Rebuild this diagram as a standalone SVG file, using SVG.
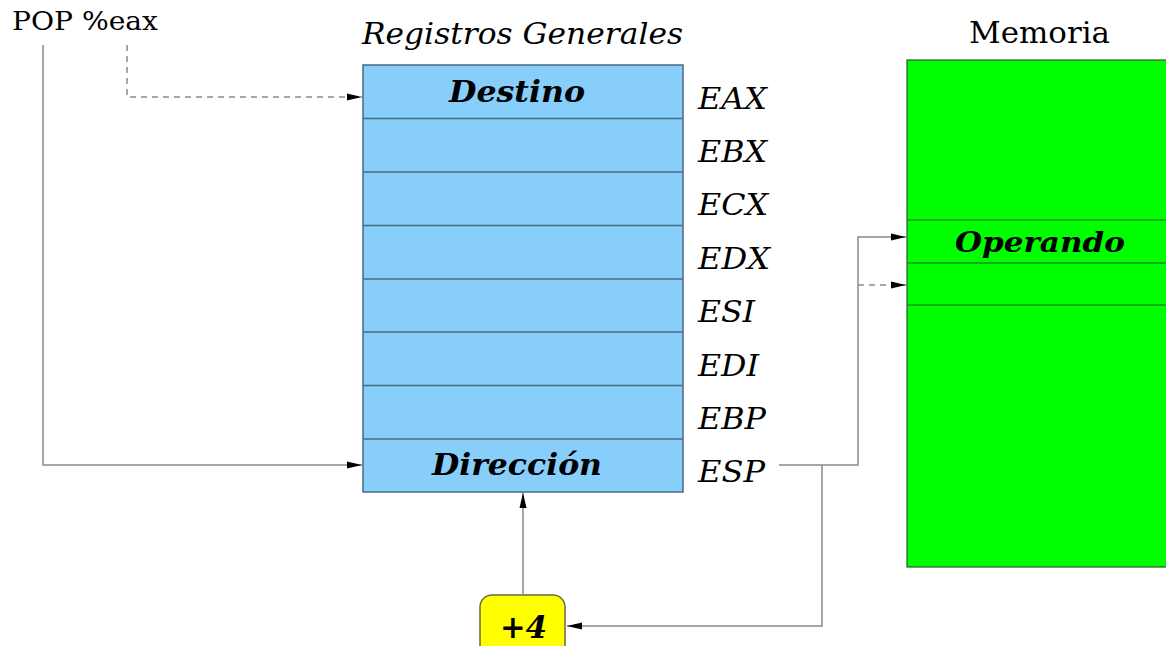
<svg xmlns="http://www.w3.org/2000/svg" width="1166" height="646" viewBox="0 0 1166 646">
<style>
.t{font-family:"DejaVu Serif",serif;fill:#000}
.it{font-style:italic}
.b{font-weight:bold;font-style:italic}
.reg{fill:#87cefa;stroke:#4a6a80;stroke-width:1.5}
.sep{stroke:#4a6a80;stroke-width:1.5}
.mem{fill:#00ff00;stroke:#2a5a2a;stroke-width:1.2}
.c{fill:none;stroke:#8a8a8a;stroke-width:1.5}
.d{stroke-dasharray:6,5}
</style>
<defs>
<marker id="a" viewBox="0 0 15 8" refX="15" refY="4" markerWidth="15" markerHeight="8" markerUnits="userSpaceOnUse" orient="auto">
<path d="M0,0.5 L15,4 L0,7.5 Z" fill="#000"/>
</marker>
</defs>
<g id="title"><text class="t" x="12" y="30" font-size="26" textLength="146" lengthAdjust="spacingAndGlyphs">POP %eax</text></g>
<g id="registros">
<text class="t it" x="362" y="44" font-size="29" textLength="321" lengthAdjust="spacingAndGlyphs">Registros Generales</text>
<rect class="reg" x="363" y="65" width="320" height="427"/>
<line class="sep" x1="363" y1="118.5" x2="683" y2="118.5"/>
<line class="sep" x1="363" y1="172" x2="683" y2="172"/>
<line class="sep" x1="363" y1="225.5" x2="683" y2="225.5"/>
<line class="sep" x1="363" y1="279" x2="683" y2="279"/>
<line class="sep" x1="363" y1="332" x2="683" y2="332"/>
<line class="sep" x1="363" y1="385.5" x2="683" y2="385.5"/>
<line class="sep" x1="363" y1="439" x2="683" y2="439"/>
<text class="t b" x="449" y="102" font-size="29" textLength="136" lengthAdjust="spacingAndGlyphs">Destino</text>
<text class="t b" x="432" y="475" font-size="29" textLength="170" lengthAdjust="spacingAndGlyphs">Dirección</text>
<g font-size="30">
<text class="t it" x="698" y="109" textLength="69" lengthAdjust="spacingAndGlyphs">EAX</text>
<text class="t it" x="698" y="162" textLength="69" lengthAdjust="spacingAndGlyphs">EBX</text>
<text class="t it" x="698" y="215" textLength="70" lengthAdjust="spacingAndGlyphs">ECX</text>
<text class="t it" x="698" y="269" textLength="72" lengthAdjust="spacingAndGlyphs">EDX</text>
<text class="t it" x="698" y="322" textLength="57" lengthAdjust="spacingAndGlyphs">ESI</text>
<text class="t it" x="698" y="376" textLength="61" lengthAdjust="spacingAndGlyphs">EDI</text>
<text class="t it" x="698" y="429" textLength="68" lengthAdjust="spacingAndGlyphs">EBP</text>
<text class="t it" x="698" y="482" textLength="67" lengthAdjust="spacingAndGlyphs">ESP</text>
</g>
</g>
<g id="memoria">
<text class="t" x="969" y="43" font-size="29" textLength="141" lengthAdjust="spacingAndGlyphs">Memoria</text>
<rect class="mem" x="907" y="60" width="262" height="507"/>
<line class="mem" x1="907" y1="220" x2="1166" y2="220"/>
<line class="mem" x1="907" y1="263" x2="1166" y2="263"/>
<line class="mem" x1="907" y1="305" x2="1166" y2="305"/>
<text class="t b" x="955" y="252" font-size="28" textLength="170" lengthAdjust="spacingAndGlyphs">Operando</text>
</g>
<g id="sumador">
<rect x="480" y="595" width="85" height="70" rx="12" fill="#ffff00" stroke="#6a6a40" stroke-width="1.5"/>
<text class="t b" x="500" y="638" font-size="31" textLength="47" lengthAdjust="spacingAndGlyphs">+4</text>
</g>
<g id="connectors">
<path class="c" d="M43,45 V465 H362" marker-end="url(#a)"/>
<path class="c d" d="M127,45 V97 H362" marker-end="url(#a)"/>
<path class="c" d="M779,465 H858 V237 H906" marker-end="url(#a)"/>
<path class="c d" d="M858,285 H906" marker-end="url(#a)"/>
<path class="c" d="M822,465 V626 H567" marker-end="url(#a)"/>
<path class="c" d="M523,595 V493" marker-end="url(#a)"/>
</g>
</svg>
